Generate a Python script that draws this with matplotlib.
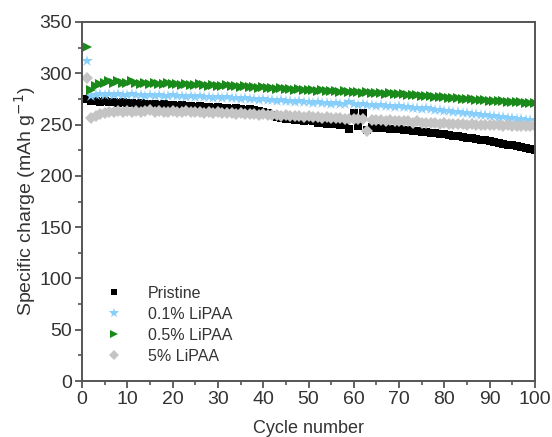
import matplotlib
matplotlib.use("Agg")
import matplotlib.pyplot as plt
from matplotlib.ticker import MultipleLocator

plt.rcParams['font.family'] = ['Liberation Sans', 'DejaVu Sans']

cycles = list(range(1, 101))

pristine = [
    275, 273, 273, 272, 273, 272, 272, 271, 272, 271,
    271, 270, 271, 270, 270, 270, 269, 270, 269, 269,
    268, 269, 268, 268, 267, 268, 267, 267, 266, 267,
    266, 266, 265, 266, 265, 264, 265, 264, 263, 262,
    261, 259, 257, 256, 255, 255, 254, 254, 253, 254,
    253, 252, 252, 251, 251, 251, 250, 250, 246, 261,
    249, 261, 245, 248, 247, 247, 247, 246, 246, 246,
    245, 245, 244, 244, 243, 243, 242, 242, 241, 241,
    240, 239, 239, 238, 237, 237, 236, 235, 235, 234,
    233, 232, 231, 230, 230, 229, 228, 227, 226, 225,
]

lipaa_01 = [
    312, 278, 279, 280, 279, 280, 279, 280, 279, 279,
    280, 279, 279, 278, 279, 278, 279, 278, 278, 279,
    278, 278, 277, 278, 277, 278, 277, 277, 276, 277,
    276, 277, 276, 276, 275, 276, 275, 275, 274, 275,
    274, 274, 273, 274, 273, 273, 272, 273, 272, 272,
    271, 272, 271, 271, 270, 271, 270, 270, 272, 270,
    269, 270, 269, 269, 268, 269, 268, 268, 267, 268,
    267, 267, 266, 266, 265, 266, 265, 264, 264, 263,
    263, 262, 262, 261, 261, 260, 260, 259, 259, 258,
    258, 257, 257, 256, 256, 255, 255, 254, 254, 254,
]

lipaa_05 = [
    326, 284, 288, 290, 291, 292, 291, 292, 291, 291,
    292, 291, 290, 291, 290, 291, 290, 290, 291, 290,
    290, 289, 290, 289, 289, 290, 289, 288, 289, 288,
    288, 289, 288, 288, 287, 288, 287, 287, 286, 287,
    286, 286, 285, 286, 285, 285, 284, 285, 284, 284,
    284, 283, 284, 283, 283, 283, 282, 283, 282, 282,
    282, 281, 282, 281, 281, 281, 280, 281, 280, 280,
    280, 279, 279, 279, 278, 278, 278, 277, 277, 277,
    276, 276, 276, 275, 275, 275, 274, 274, 274, 273,
    273, 273, 273, 272, 272, 272, 272, 271, 271, 271,
]

lipaa_5 = [
    295, 256, 258, 260, 261, 262, 262, 263, 262, 263,
    262, 263, 262, 263, 264, 262, 263, 262, 262, 263,
    262, 262, 263, 262, 262, 262, 261, 262, 261, 262,
    261, 261, 261, 260, 261, 260, 260, 260, 259, 260,
    259, 259, 259, 258, 259, 258, 258, 258, 257, 258,
    257, 257, 256, 257, 256, 256, 256, 255, 255, 255,
    255, 255, 244, 254, 254, 254, 253, 254, 253, 253,
    253, 253, 252, 253, 252, 252, 252, 252, 251, 252,
    251, 251, 251, 251, 250, 251, 250, 250, 250, 250,
    250, 250, 249, 250, 249, 249, 249, 249, 249, 249,
]

series = [
    ("Pristine", pristine, "s", "#000000", 6.0),
    ("0.1% LiPAA", lipaa_01, "*", "#87cefa", 9.0),
    ("0.5% LiPAA", lipaa_05, ">", "#1a8a1a", 7.5),
    ("5% LiPAA", lipaa_5, "D", "#c4c4c4", 6.0),
]

fig = plt.figure(figsize=(5.52, 4.37), dpi=100)
ax = fig.add_axes([0.1486, 0.128, 0.8206, 0.8217])

for label, vals, mk, col, ms in series:
    ax.plot(cycles, vals, linestyle='none', marker=mk, color=col,
            markersize=ms, markeredgewidth=0, label=label)

ax.set_xlim(0, 100)
ax.set_ylim(0, 350)
ax.xaxis.set_major_locator(MultipleLocator(10))
ax.xaxis.set_minor_locator(MultipleLocator(5))
ax.yaxis.set_major_locator(MultipleLocator(50))
ax.yaxis.set_minor_locator(MultipleLocator(25))

for s in ax.spines.values():
    s.set_color('#555555')
    s.set_linewidth(1.4)
ax.tick_params(which='major', direction='out', length=5, width=1.3,
               colors='#555555', labelcolor='#333333', labelsize=14, pad=2)
ax.tick_params(which='minor', direction='out', length=3, width=1.2, colors='#555555')
ax.tick_params(top=False, right=False, which='both')

ax.set_xlabel("Cycle number", fontsize=13, color='#333333', labelpad=9)
ax.set_ylabel("Specific charge (mAh g$^{-1}$)", fontsize=14, color='#333333', labelpad=1)

leg = ax.legend(loc='lower left', bbox_to_anchor=(0.025, 0.017), frameon=False,
                fontsize=11.5, handletextpad=1.5, labelspacing=0.38,
                handlelength=1.2, borderaxespad=0.3, markerscale=0.8)
for t in leg.get_texts():
    t.set_color('#333333')

fig.savefig("out.png", dpi=100)
